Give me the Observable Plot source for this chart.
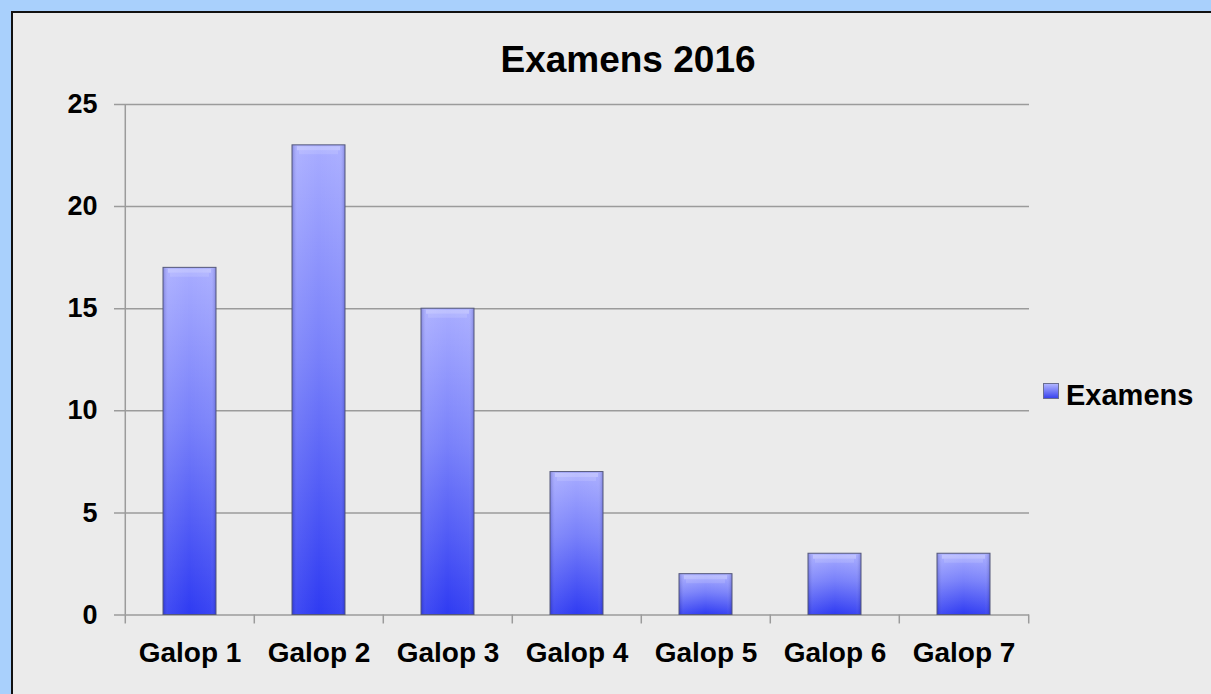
<!DOCTYPE html>
<html>
<head>
<meta charset="utf-8">
<script src="https://cdn.jsdelivr.net/npm/d3@7"></script>
<script src="https://cdn.jsdelivr.net/npm/@observablehq/plot@0.6"></script>
<style>
  html, body { margin: 0; padding: 0; }
  body { width: 1211px; height: 694px; overflow: hidden; background: #a9d0fc; position: relative;
         font-family: "Liberation Sans", Arial, Helvetica, sans-serif; }
  #panel { position: absolute; left: 11px; top: 11px; width: 1200px; height: 683px; box-sizing: border-box;
           background: #ebebeb; border-left: 2px solid #111; border-top: 2px solid #111; }
  #title { position: absolute; left: 0; top: 41px; width: 1256px; text-align: center;
           font-size: 37px; line-height: 37px; font-weight: bold; color: #000; }
  #chart { position: absolute; left: 0; top: 85px; }
  #legend-swatch { position: absolute; left: 1043px; top: 383px; width: 16px; height: 16px; box-sizing: border-box;
           background: linear-gradient(to bottom, #b0b4ff, #3a44ee); border: 1px solid #6a6e90; }
  #legend-text { position: absolute; left: 1066px; top: 380.5px; font-size: 29px; line-height: 29px;
           font-weight: bold; color: #000; }
</style>
</head>
<body>
<div id="panel"></div>
<div id="title"></div>
<div id="chart"></div>
<div id="legend-swatch"></div>
<div id="legend-text"></div>
<script>
const chartTitle = "Examens 2016";
const seriesName = "Examens";
const categories = ["Galop 1", "Galop 2", "Galop 3", "Galop 4", "Galop 5", "Galop 6", "Galop 7"];
const values = [17, 23, 15, 7, 2, 3, 3];
const yTicks = [0, 5, 10, 15, 20, 25];

const data = categories.map((c, i) => ({cat: c, value: values[i]}));

document.getElementById("title").textContent = chartTitle;
document.getElementById("legend-text").textContent = seriesName;

const W = 1211, H = 609, mL = 123, mR = 182, mT = 19, mB = 79.5;
const step = (W - mL - mR) / categories.length;

const chart = Plot.plot({
  width: W, height: H,
  marginLeft: mL, marginRight: mR, marginTop: mT, marginBottom: mB,
  style: {background: "transparent", fontFamily: "'Liberation Sans', Arial, sans-serif", fontWeight: "bold", color: "#000", overflow: "visible"},
  x: {type: "band", domain: categories, paddingInner: 0.59, paddingOuter: 0.295, label: null},
  y: {domain: [0, 25], ticks: yTicks, label: null},
  marks: [
    Plot.gridY(yTicks, {stroke: "#9b9b9b", strokeOpacity: 1, strokeWidth: 1.5, insetLeft: -9}),
    Plot.ruleX([categories[0]], {dx: -step / 2, stroke: "#9b9b9b", strokeWidth: 1.5}),
    Plot.ruleX(categories, {y1: 0, y2: -0.44, dx: -step / 2, stroke: "#9b9b9b", strokeWidth: 1.5}),
    Plot.ruleX([categories[categories.length - 1]], {y1: 0, y2: -0.44, dx: step / 2, stroke: "#9b9b9b", strokeWidth: 1.5}),
    Plot.barY(data, {x: "cat", y: "value", fill: "url(#barGrad)"}),
    Plot.barY(data, {x: "cat", y: "value", fill: "url(#sideGrad)", stroke: "#55597a", strokeWidth: 1}),
    Plot.tickY(data, {x: "cat", y: "value", dy: 3, stroke: "white", strokeOpacity: 0.25, strokeWidth: 4, insetLeft: 5, insetRight: 5}),
    Plot.tickY(data, {x: "cat", y: "value", dy: 7, stroke: "white", strokeOpacity: 0.12, strokeWidth: 4, insetLeft: 7, insetRight: 7}),
    Plot.axisY(yTicks, {tickSize: 0, tickPadding: 26, fontSize: 27, fontWeight: "bold", fill: "#000"}),
    Plot.axisX({tickSize: 0, tickPadding: 27.5, fontSize: 28, fontWeight: "bold", fill: "#000"})
  ]
});

const defs = d3.select(chart).insert("defs", ":first-child");
const g1 = defs.append("linearGradient").attr("id", "barGrad").attr("x1", 0).attr("y1", 0).attr("x2", 0).attr("y2", 1);
[[0, "#a8acff"], [0.45, "#7880fa"], [1, "#2f3bf2"]].forEach(([o, c]) => g1.append("stop").attr("offset", o).attr("stop-color", c));
const g2 = defs.append("linearGradient").attr("id", "sideGrad").attr("x1", 0).attr("y1", 0).attr("x2", 1).attr("y2", 0);
[[0, "#141478", 0.25], [0.1, "#ffffff", 0.08], [0.5, "#ffffff", 0], [0.9, "#ffffff", 0.05], [1, "#141478", 0.25]]
  .forEach(([o, c, a]) => g2.append("stop").attr("offset", o).attr("stop-color", c).attr("stop-opacity", a));

document.getElementById("chart").appendChild(chart);
</script>
</body>
</html>
